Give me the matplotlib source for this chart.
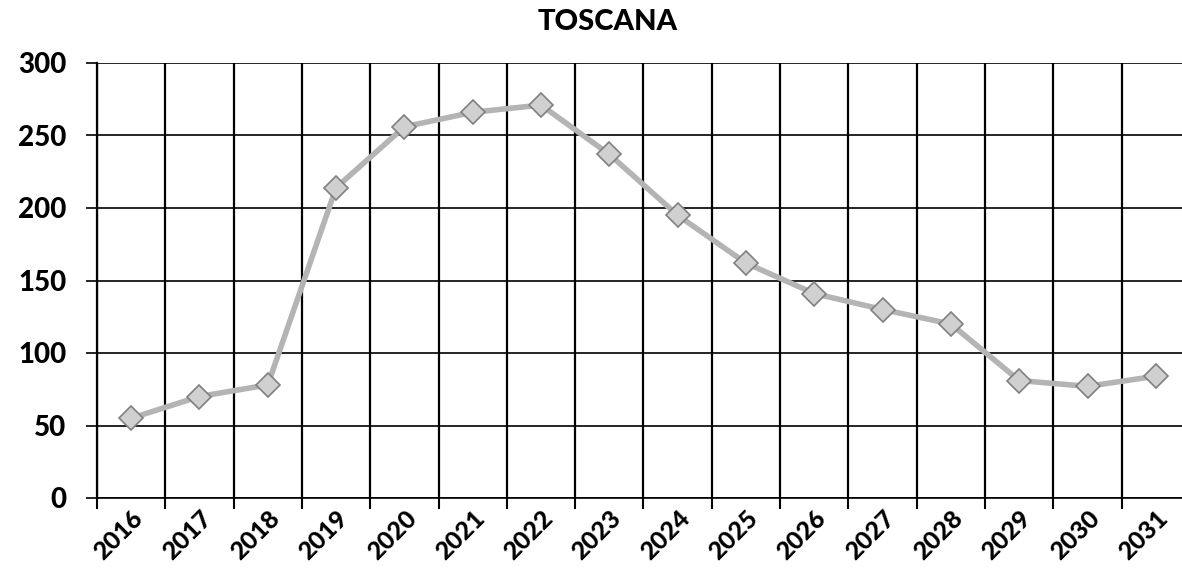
import matplotlib

matplotlib.use("Agg")
import matplotlib.pyplot as plt  # noqa: E402
import numpy as np  # noqa: E402

# data
years = ["2016", "2017", "2018", "2019", "2020", "2021", "2022", "2023",
         "2024", "2025", "2026", "2027", "2028", "2029", "2030", "2031"]
values = [55, 70, 78, 214, 256, 266, 271, 237, 195, 162, 141, 130, 120, 81, 77, 84]
y_ticks = [0, 50, 100, 150, 200, 250, 300]

fig = plt.figure(figsize=(11.82, 5.71), dpi=100)
ax = fig.add_axes([97 / 1182, 1 - 498 / 571, 1093 / 1182, 435 / 571])

x = np.arange(len(years))
ax.plot(x, values, color="#b4b4b4", lw=4, marker="D", ms=12,
        mfc="#d0d0d0", mec="#808080", mew=1.2, zorder=3)

ax.set_xlim(-0.5, len(years) - 0.5)
ax.set_ylim(0, 300)
ax.set_yticks(y_ticks)
ax.set_xticks(x)
ax.set_xticklabels(years, rotation=45, ha="right", rotation_mode="anchor")
ax.set_xticks(np.arange(-0.5, len(years) - 0.5, 1), minor=True)

for lbl in ax.get_yticklabels():
    lbl.set_fontfamily("Lato")
    lbl.set_fontweight("black")
    lbl.set_fontsize(20)
for lbl in ax.get_xticklabels():
    lbl.set_fontfamily("Lato")
    lbl.set_fontweight("black")
    lbl.set_fontsize(18)

ax.tick_params(axis="x", which="major", length=0, pad=6)
ax.tick_params(axis="x", which="minor", length=8, width=1.5, color="black")
ax.tick_params(axis="y", length=8, width=1.2, color="black", pad=14)

ax.grid(True, which="minor", axis="x", color="black", lw=1.6)
ax.grid(True, which="major", axis="y", color="black", lw=1.2)
for s in ["top", "right"]:
    ax.spines[s].set_visible(False)
ax.spines["left"].set_linewidth(1.6)
ax.spines["bottom"].set_linewidth(1.2)

fig.text(608 / 1182, 1 - 22 / 571, "TOSCANA", ha="center", va="center",
         fontsize=21, fontweight="black", family="Lato")

fig.savefig("out.png", dpi=100)
